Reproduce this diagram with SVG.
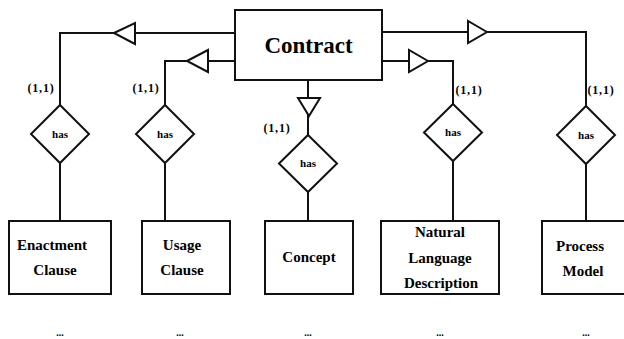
<svg xmlns="http://www.w3.org/2000/svg" width="624" height="339" viewBox="0 0 624 339">
<style>
.box{fill:#fff;stroke:#111;stroke-width:2}
.ln{fill:none;stroke:#111;stroke-width:2}
.tri{fill:#fff;stroke:#111;stroke-width:2;stroke-linejoin:miter}
</style>
<rect width="624" height="339" fill="#fff"/>
<g id="connectors">
<polyline class="ln" points="235,33 60,33 60,105"/>
<polyline class="ln" points="235,61 165,61 165,105"/>
<polyline class="ln" points="308,80 308,135"/>
<polyline class="ln" points="382,61 453,61 453,104"/>
<polyline class="ln" points="382,32 586,32 586,106"/>
<line class="ln" x1="60" y1="163" x2="60" y2="221"/>
<line class="ln" x1="165" y1="163" x2="165" y2="221"/>
<line class="ln" x1="308" y1="192" x2="308" y2="221"/>
<line class="ln" x1="453" y1="161" x2="453" y2="221"/>
<line class="ln" x1="586" y1="164" x2="586" y2="221"/>
<polygon class="tri" points="114,33 135,23 135,44"/>
<polygon class="tri" points="187,61 208,50 208,72"/>
<polygon class="tri" points="298,98 320,98 309,116"/>
<polygon class="tri" points="428,61 409,50 409,72"/>
<polygon class="tri" points="487,32 468,21 468,43"/>
<text x="41" y="92" font-family="Liberation Serif" font-weight="bold" font-size="12" letter-spacing="0.8" text-anchor="middle">(1,1)</text>
<text x="146" y="92" font-family="Liberation Serif" font-weight="bold" font-size="12" letter-spacing="0.8" text-anchor="middle">(1,1)</text>
<text x="277" y="132" font-family="Liberation Serif" font-weight="bold" font-size="12" letter-spacing="0.8" text-anchor="middle">(1,1)</text>
<text x="469" y="94" font-family="Liberation Serif" font-weight="bold" font-size="12" letter-spacing="0.8" text-anchor="middle">(1,1)</text>
<text x="601" y="94" font-family="Liberation Serif" font-weight="bold" font-size="12" letter-spacing="0.8" text-anchor="middle">(1,1)</text>
</g>
<g id="contract">
<rect class="box" x="235" y="10" width="147" height="70"/>
<text x="308.5" y="53" font-family="Liberation Serif" font-weight="bold" font-size="23" text-anchor="middle">Contract</text>
</g>
<g id="has1">
<polygon class="box" points="60,105 89,134 60,163 31,134"/>
<text x="60" y="138" font-family="Liberation Serif" font-weight="bold" font-size="11" text-anchor="middle">has</text>
</g>
<g id="has2">
<polygon class="box" points="165,105 194,134 165,163 136,134"/>
<text x="165" y="138" font-family="Liberation Serif" font-weight="bold" font-size="11" text-anchor="middle">has</text>
</g>
<g id="has3">
<polygon class="box" points="308,135 337,163.5 308,192 279,163.5"/>
<text x="308" y="167" font-family="Liberation Serif" font-weight="bold" font-size="11" text-anchor="middle">has</text>
</g>
<g id="has4">
<polygon class="box" points="453,104 482,132.5 453,161 424,132.5"/>
<text x="453" y="136" font-family="Liberation Serif" font-weight="bold" font-size="11" text-anchor="middle">has</text>
</g>
<g id="has5">
<polygon class="box" points="586,106 615,135 586,164 557,135"/>
<text x="586" y="139" font-family="Liberation Serif" font-weight="bold" font-size="11" text-anchor="middle">has</text>
</g>
<g id="enactment">
<rect class="box" x="9" y="221" width="102" height="73"/>
<text x="52" y="250" font-family="Liberation Serif" font-weight="bold" font-size="15" text-anchor="middle">Enactment</text>
<text x="55" y="275" font-family="Liberation Serif" font-weight="bold" font-size="15" text-anchor="middle">Clause</text>
</g>
<g id="usage">
<rect class="box" x="142" y="221" width="88" height="73"/>
<text x="182" y="250" font-family="Liberation Serif" font-weight="bold" font-size="15" text-anchor="middle">Usage</text>
<text x="182" y="275" font-family="Liberation Serif" font-weight="bold" font-size="15" text-anchor="middle">Clause</text>
</g>
<g id="concept">
<rect class="box" x="265" y="221" width="88" height="73"/>
<text x="309" y="262" font-family="Liberation Serif" font-weight="bold" font-size="15" text-anchor="middle">Concept</text>
</g>
<g id="nld">
<rect class="box" x="381" y="221" width="118" height="73"/>
<text x="440" y="237" font-family="Liberation Serif" font-weight="bold" font-size="15" text-anchor="middle">Natural</text>
<text x="440" y="263" font-family="Liberation Serif" font-weight="bold" font-size="15" text-anchor="middle">Language</text>
<text x="441" y="288" font-family="Liberation Serif" font-weight="bold" font-size="15" text-anchor="middle">Description</text>
</g>
<g id="process">
<rect class="box" x="542" y="221" width="90" height="73"/>
<text x="580" y="251" font-family="Liberation Serif" font-weight="bold" font-size="15" text-anchor="middle">Process</text>
<text x="583" y="276" font-family="Liberation Serif" font-weight="bold" font-size="15" text-anchor="middle">Model</text>
</g>
<g id="ellipses">
<text x="60" y="336" font-family="Liberation Serif" font-weight="bold" font-size="10" text-anchor="middle">...</text>
<text x="180" y="336" font-family="Liberation Serif" font-weight="bold" font-size="10" text-anchor="middle">...</text>
<text x="308" y="336" font-family="Liberation Serif" font-weight="bold" font-size="10" text-anchor="middle">...</text>
<text x="440" y="336" font-family="Liberation Serif" font-weight="bold" font-size="10" text-anchor="middle">...</text>
<text x="586" y="336" font-family="Liberation Serif" font-weight="bold" font-size="10" text-anchor="middle">...</text>
</g>
</svg>
